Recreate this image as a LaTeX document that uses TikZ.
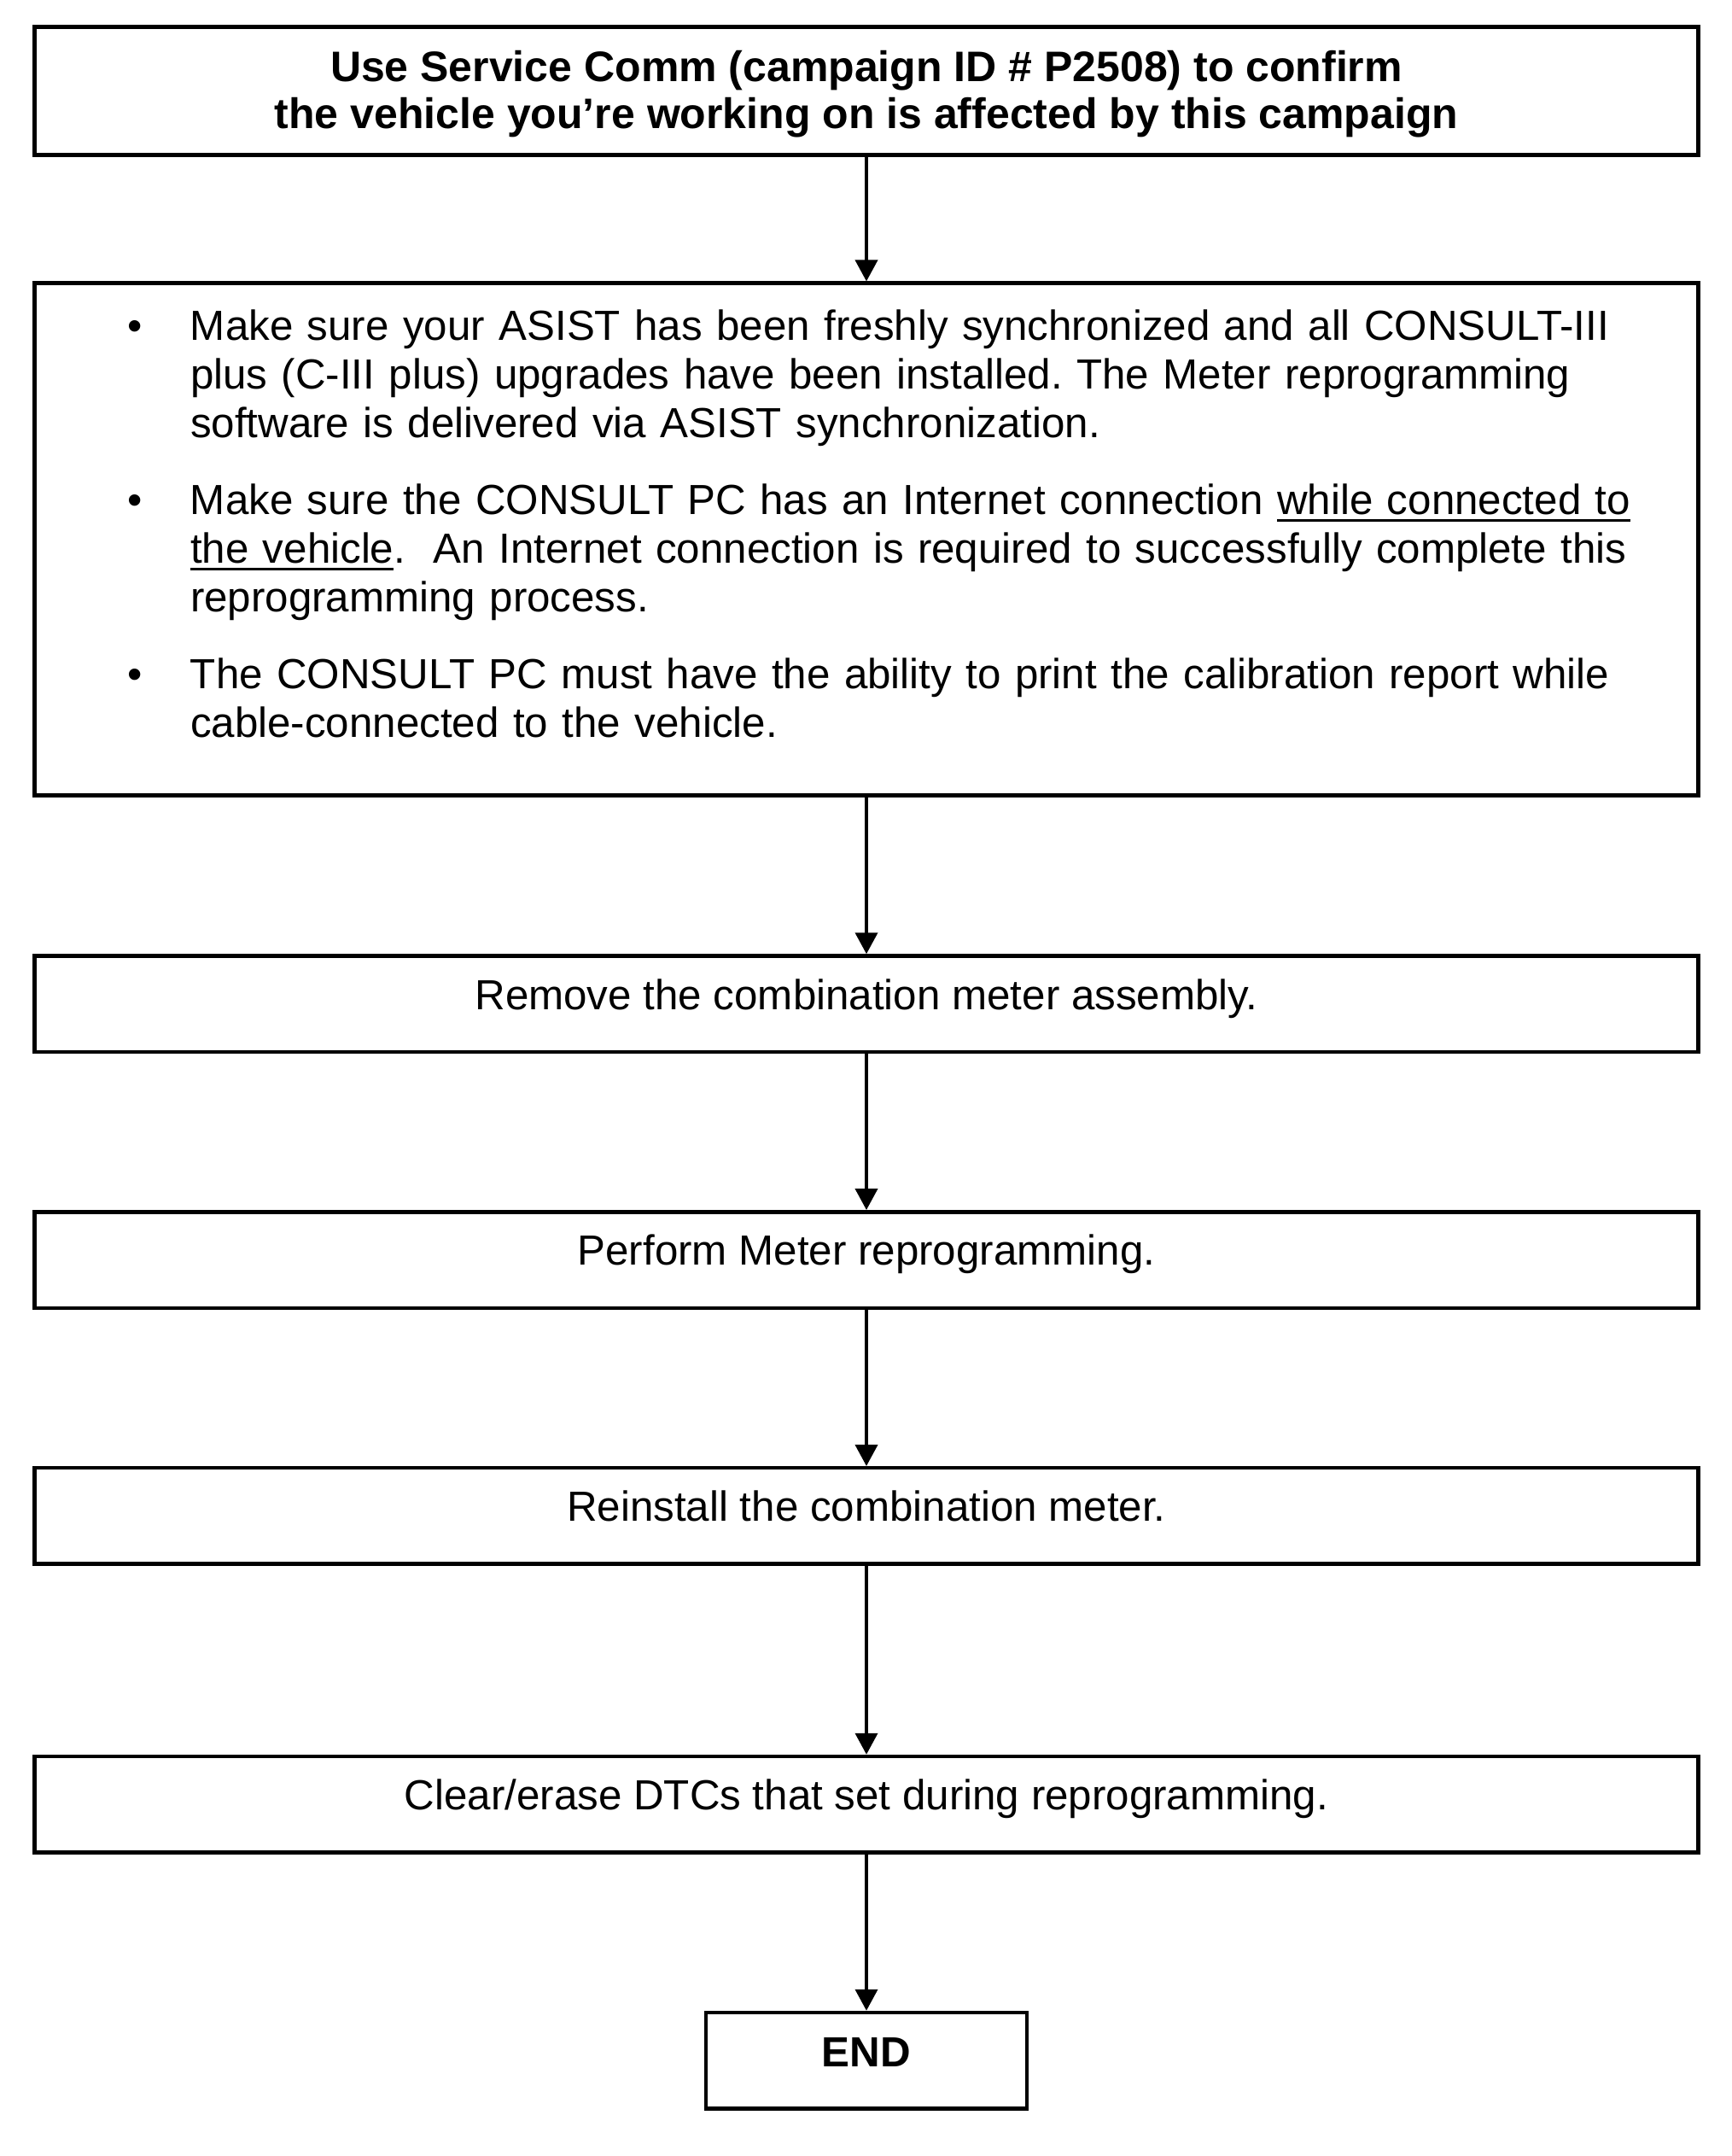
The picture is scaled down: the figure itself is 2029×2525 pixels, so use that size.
\documentclass[tikz,border=0pt]{standalone}
\usepackage{fontspec}
\setmainfont{Liberation Sans}
\usetikzlibrary{arrows.meta}
\frenchspacing
\newcommand\myul[1]{\setbox0\hbox{#1}\rlap{\vrule height -6pt depth 9pt width \wd0}\box0}
\newcommand\bitem{\noindent\llap{\hbox to 130pt{\hss\textbullet\hss}}}
\begin{document}
\begin{tikzpicture}[x=1pt,y=-1pt,
  box/.style={draw, line width=4.5pt, inner sep=0pt, minimum width=1949pt,
    font=\fontsize{49.3pt}{57pt}\selectfont\frenchspacing},
  onebox/.style={box, minimum height=112.5pt, text height=62.5pt, text depth=50pt},
  arr/.style={line width=3.8pt, -{Triangle[width=26pt,length=25pt]}}]

\useasboundingbox (0,0) rectangle (2029,2525);

\node[box, minimum height=150pt, text height=118.3pt, text depth=31.7pt, align=center,
  font=\fontsize{50pt}{55pt}\selectfont\bfseries] (b1) at (1015,106.7)
  {Use Service Comm (campaign ID \# P2508) to confirm\\the vehicle you’re working on is affected by this campaign};

\node[box, minimum height=600pt, text width=1900pt, text height=66.3pt, text depth=533.7pt, align=left] (b2) at (1015,631.7)
  {\leftskip=158pt\parskip=0pt\frenchspacing
   \bitem\mbox{Make sure your ASIST has been freshly synchronized and all CONSULT-III}\\
   \mbox{plus (C-III plus) upgrades have been installed. The Meter reprogramming}\\
   \mbox{software is delivered via ASIST synchronization.}\par\vskip 33pt
   \bitem\mbox{Make sure the CONSULT PC has an Internet connection \myul{while connected to}}\\
   \mbox{\myul{the vehicle}.\ \ An Internet connection is required to successfully complete this}\\
   \mbox{reprogramming process.}\par\vskip 33pt
   \bitem\mbox{The CONSULT PC must have the ability to print the calibration report while}\\
   \mbox{cable-connected to the vehicle.}\par};

\node[onebox] (b3) at (1015,1175.75) {Remove the combination meter assembly.};
\node[onebox] (b4) at (1015,1475.55) {Perform Meter reprogramming.};
\node[onebox] (b5) at (1015,1775.45) {Reinstall the combination meter.};
\node[onebox] (b6) at (1015,2113.25) {Clear/erase DTCs that set during reprogramming.};
\node[box, minimum width=376pt, minimum height=112.3pt, text height=63pt, text depth=49.3pt,
  font=\fontsize{49.3pt}{57pt}\selectfont\bfseries] (end) at (1015,2413.15) {END};

\draw[arr] (b1.south) -- (b2.north);
\draw[arr] (b2.south) -- (b3.north);
\draw[arr] (b3.south) -- (b4.north);
\draw[arr] (b4.south) -- (b5.north);
\draw[arr] (b5.south) -- (b6.north);
\draw[arr] (b6.south) -- (end.north);
\end{tikzpicture}
\end{document}
